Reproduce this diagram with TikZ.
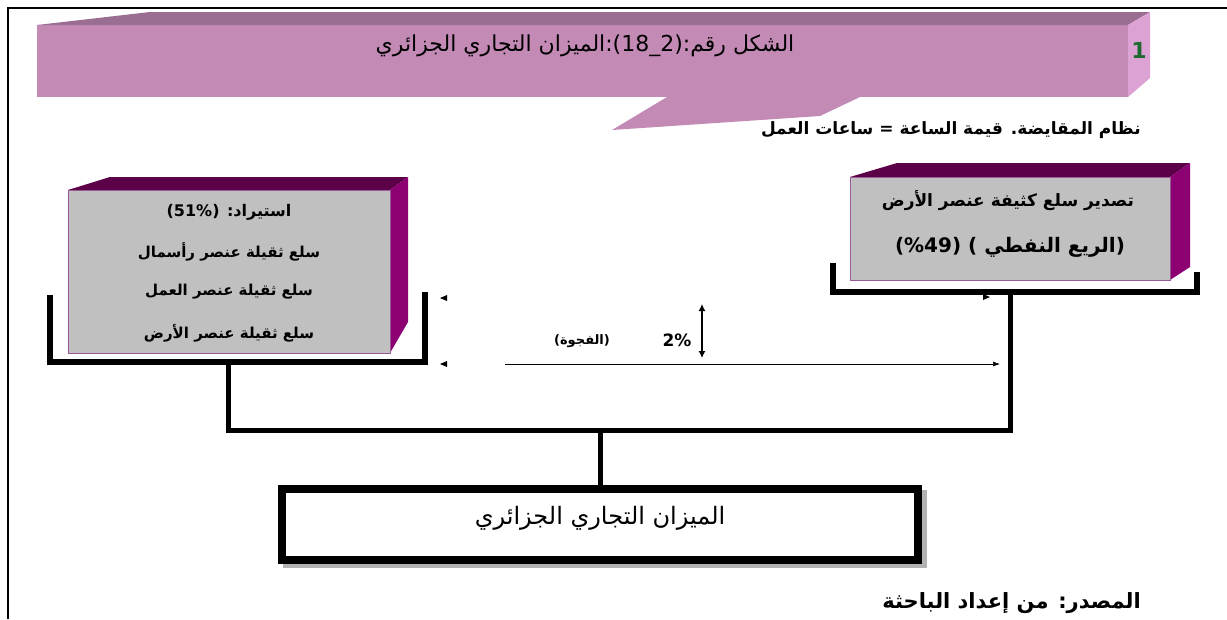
\documentclass[tikz,border=0pt]{standalone}
\usepackage{fontspec}
\TeXXeTstate=1
\setmainfont{DejaVu Sans}
\newfontfamily\ar[Script=Arabic]{DejaVu Sans}
\usetikzlibrary{arrows.meta}
\definecolor{bfront}{HTML}{C38AB6}
\definecolor{btop}{HTML}{9A6E92}
\definecolor{bside}{HTML}{DCA2D4}
\definecolor{gface}{HTML}{C0C0C0}
\definecolor{ptop}{HTML}{5C0048}
\definecolor{pside}{HTML}{8C0072}
\definecolor{pedge}{HTML}{9A5A96}
\definecolor{onegreen}{HTML}{1E6A30}
\tikzset{
  artxt/.style={inner sep=0pt, font=\ar\fontsize{22}{24}\selectfont},
  arbold/.style={inner sep=0pt, font=\ar\bfseries\fontsize{15}{17}\selectfont},
  bracket/.style={line width=6pt, line cap=butt, line join=miter},
  conn/.style={line width=5pt},
  tri/.style={fill=black, draw=none},
}
\begin{document}
\begin{tikzpicture}[x=1pt,y=-1pt]
\useasboundingbox (0,0) rectangle (1227,619);
\fill[white] (0,0) rectangle (1227,619);
% frame
\draw[line width=2pt] (8,619) -- (8,8) -- (1227,8);
% banner
\fill[bfront] (667,97) -- (612,130) -- (820,116) -- (860,97) -- cycle;
\fill[bfront] (37,25) rectangle (1128,97);
\fill[btop] (37,25) -- (150,12) -- (1150,12) -- (1128,25) -- cycle;
\fill[bside] (1128,25) -- (1150,12) -- (1150,78) -- (1128,97) -- cycle;
\node[artxt] (title) at (585,46) {\beginR الشكل رقم:\beginL(2\_18)\endL:الميزان التجاري الجزائري\endR};
\node[inner sep=0pt, font=\bfseries\fontsize{22}{22}\selectfont, text=onegreen] (one) at (1139,50) {1};
\node[arbold, font=\ar\bfseries\fontsize{17}{19}\selectfont, anchor=east] (sub) at (1141,130) {\beginR نظام المقايضة. قيمة الساعة = ساعات العمل\endR};
% brackets
\draw[bracket] (50,295) -- (50,362) coordinate (lbl) -- (425,362) coordinate (lbr) -- (425,292);
\draw[bracket] (833,263) -- (833,292) coordinate (rbl) -- (1197,292) coordinate (rbr) -- (1197,272);
\coordinate (lbm) at (228,362);
\coordinate (rbm) at (1010,292);
\coordinate (jl) at (228,430);
\coordinate (jr) at (1010,430);
\coordinate (jm) at (600,430);
% left box
\fill[ptop] (68,190) -- (110,177) -- (408,177) -- (390,190) -- cycle;
\fill[pside] (390,190) -- (408,177) -- (408,322) -- (390,353) -- cycle;
\filldraw[fill=gface, draw=pedge, line width=0.8pt] (68,190) rectangle (390,353);
\node[arbold, font=\ar\bfseries\fontsize{16}{18}\selectfont] (l1) at (229,212) {\beginR استيراد: \beginL(51\%)\endL\endR};
\node[arbold] (l2) at (229,252) {\beginR سلع ثقيلة عنصر رأسمال\endR};
\node[arbold] (l3) at (229,292) {\beginR سلع ثقيلة عنصر العمل\endR};
\node[arbold] (l4) at (229,333) {\beginR سلع ثقيلة عنصر الأرض\endR};
% right box
\fill[ptop] (850,177) -- (897,163) -- (1190,163) -- (1170,177) -- cycle;
\fill[pside] (1170,177) -- (1190,163) -- (1190,267) -- (1170,280) -- cycle;
\filldraw[fill=gface, draw=pedge, line width=0.8pt] (850,177) rectangle (1170,280);
\node[arbold, font=\ar\bfseries\fontsize{17}{19}\selectfont] (r1) at (1008,201) {\beginR تصدير سلع كثيفة عنصر الأرض\endR};
\node[arbold, font=\ar\bfseries\fontsize{20}{22}\selectfont] (r2) at (1010,247) {\beginR(الريع النفطي ) (\beginL\%49\endL)\endR};
% connectors
\draw[conn] (lbm) -- (jl) -- (jr) -- (rbm);
% bottom box
\fill[gray!60] (283,490) rectangle (927,568);
\filldraw[fill=white, draw=black, line width=8pt] (282,489) rectangle (918,560);
\coordinate (bt) at (600,485);
\draw[conn] (jm) -- (bt);
\node[artxt, font=\ar\fontsize{24}{26}\selectfont] (bottom) at (600,518) {\beginR الميزان التجاري الجزائري\endR};
% gap marks
\coordinate (al1) at (440,298);
\coordinate (al2) at (440,364);
\coordinate (ar1) at (990,297);
\coordinate (hs) at (505,364);
\coordinate (he) at (1000,364);
\fill[tri] (al1) -- ++(7,-3) -- ++(0,6) -- cycle;
\fill[tri] (al2) -- ++(7,-3) -- ++(0,6) -- cycle;
\fill[tri] (ar1) -- ++(-7,-3) -- ++(0,6) -- cycle;
\draw[line width=0.6pt, -{Latex[length=7pt,width=5pt]}] (hs) -- (he);
\coordinate (vt) at (702,304);
\coordinate (vb) at (702,358);
\draw[line width=1.2pt, {Latex[length=7pt,width=7pt]}-{Latex[length=7pt,width=7pt]}] (vt) -- (vb);
\node[inner sep=0pt, font=\bfseries\fontsize{17}{18}\selectfont] (pct) at (677,340) {2\%};
\node[arbold, font=\ar\bfseries\fontsize{13}{15}\selectfont] (gap) at (582,341) {\beginR(الفجوة)\endR};
% source
\node[arbold, font=\ar\bfseries\fontsize{21}{23}\selectfont, anchor=east] (src) at (1141,603) {\beginR المصدر: من إعداد الباحثة\endR};
\end{tikzpicture}
\end{document}
